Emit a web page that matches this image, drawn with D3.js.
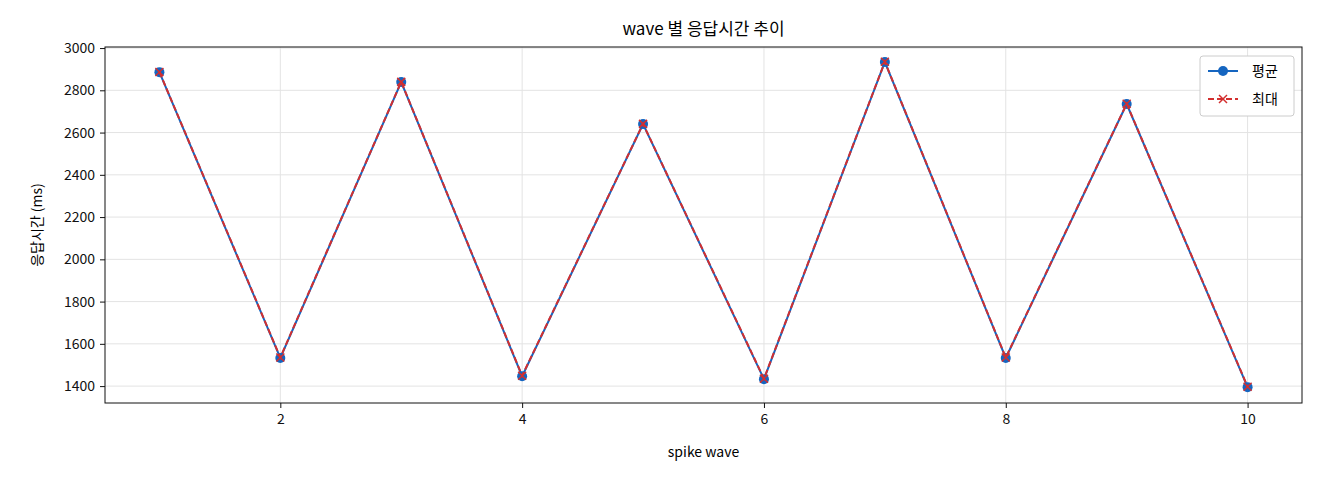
<!DOCTYPE html>
<html><head><meta charset="utf-8">
<script src="https://cdn.jsdelivr.net/npm/d3@7"></script>
<style>body{margin:0;background:#fff}text{font-family:"Noto Sans CJK KR","DejaVu Sans",sans-serif}</style>
</head><body><svg id="c" width="1320" height="480"></svg>
<script>
var waves = [1,2,3,4,5,6,7,8,9,10];
var avgMs = [2886,1533,2839,1447,2640,1433,2934,1533,2735,1395];
var maxMs = [2887,1535,2840,1449,2641,1435,2935,1535,2736,1397];
var yTicks = [1400,1600,1800,2000,2200,2400,2600,2800,3000];
var xTicks = [2,4,6,8,10];

var svg = d3.select('#c');
var L = 105, R = 1302, T = 47, B = 403;
var x = d3.scaleLinear().domain([0.55,10.45]).range([L,R]);
var y = d3.scaleLinear().domain([1320,3005]).range([B,T]);

// grid
svg.append('g').selectAll('line').data(xTicks).join('line')
  .attr('x1',d=>x(d)).attr('x2',d=>x(d)).attr('y1',T).attr('y2',B)
  .attr('stroke','#e3e3e3');
svg.append('g').selectAll('line').data(yTicks).join('line')
  .attr('x1',L).attr('x2',R).attr('y1',d=>y(d)).attr('y2',d=>y(d))
  .attr('stroke','#e3e3e3');

var xa = svg.append('g').attr('transform','translate(0,'+B+')')
  .call(d3.axisBottom(x).tickValues(xTicks).tickFormat(d3.format('d')).tickSize(5).tickPadding(6));
var ya = svg.append('g').attr('transform','translate('+L+',0)')
  .call(d3.axisLeft(y).tickValues(yTicks).tickFormat(d3.format('d')).tickSize(5).tickPadding(5));
[xa,ya].forEach(a=>{a.select('.domain').remove();a.attr('font-size',14).attr('font-family','"Noto Sans CJK KR",sans-serif');a.selectAll('text').attr('fill','#111');a.selectAll('line').attr('stroke','#111');});
svg.append('rect').attr('x',L).attr('y',T).attr('width',R-L).attr('height',B-T)
  .attr('fill','none').attr('stroke','#111');

var line = d3.line().x((d,i)=>x(waves[i])).y(d=>y(d));
svg.append('path').datum(avgMs).attr('d',line).attr('fill','none').attr('stroke','#1565c0').attr('stroke-width',2);
svg.append('g').selectAll('circle').data(avgMs).join('circle')
  .attr('cx',(d,i)=>x(waves[i])).attr('cy',d=>y(d)).attr('r',5).attr('fill','#1565c0');
svg.append('path').datum(maxMs).attr('d',line).attr('fill','none').attr('stroke','#d32f2f').attr('stroke-width',2).attr('stroke-dasharray','6,3');
svg.append('g').selectAll('path').data(maxMs).join('path')
  .attr('d','M-4,-4L4,4M-4,4L4,-4')
  .attr('transform',(d,i)=>'translate('+x(waves[i])+','+y(d)+')')
  .attr('stroke','#d32f2f').attr('stroke-width',1.5);

svg.append('text').attr('x',(L+R)/2).attr('y',35).attr('text-anchor','middle').attr('font-size',17).text('wave 별 응답시간 추이');
svg.append('text').attr('x',(L+R)/2).attr('y',457).attr('text-anchor','middle').attr('font-size',14).text('spike wave');
svg.append('text').attr('transform','translate(42,'+(T+B)/2+') rotate(-90)').attr('text-anchor','middle').attr('font-size',14).text('응답시간 (ms)');

// legend
var lg = svg.append('g').attr('transform','translate(1200,56)');
lg.append('rect').attr('width',94).attr('height',60).attr('rx',3).attr('fill','#fff').attr('stroke','#ccc');
lg.append('line').attr('x1',8).attr('x2',38).attr('y1',15).attr('y2',15).attr('stroke','#1565c0').attr('stroke-width',2);
lg.append('circle').attr('cx',23).attr('cy',15).attr('r',5).attr('fill','#1565c0');
lg.append('text').attr('x',52).attr('y',20).attr('font-size',14).text('평균');
lg.append('line').attr('x1',8).attr('x2',38).attr('y1',43).attr('y2',43).attr('stroke','#d32f2f').attr('stroke-width',2).attr('stroke-dasharray','6,3');
lg.append('path').attr('d','M19,39L27,47M19,47L27,39').attr('stroke','#d32f2f').attr('stroke-width',1.5);
lg.append('text').attr('x',52).attr('y',48).attr('font-size',14).text('최대');
</script></body></html>
